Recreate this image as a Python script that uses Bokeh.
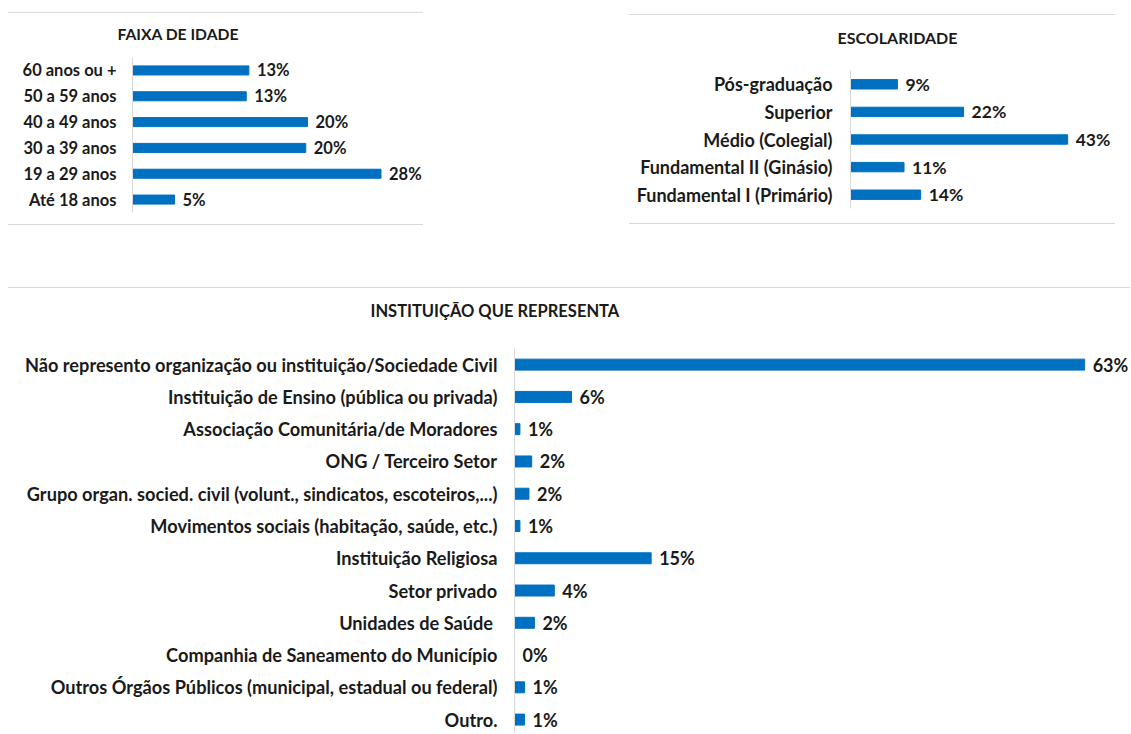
from bokeh.plotting import figure
from bokeh.models import ColumnDataSource, FactorRange, Range1d, FixedTicker, Spacer, Title
from bokeh.layouts import column, row
from bokeh.embed import file_html
from bokeh.resources import INLINE
from bokeh.core.properties import value

FONT = "Lato"
BLUE = "#0070C0"
GREY = "#D9D9D9"
TXT = "#1a1a1a"

age_title = "FAIXA DE IDADE"
age_labels = ["60 anos ou +", "50 a 59 anos", "40 a 49 anos", "30 a 39 anos", "19 a 29 anos", "Até 18 anos"]
age_values = [13.3, 13.0, 20.0, 19.8, 28.4, 4.8]

edu_title = "ESCOLARIDADE"
edu_labels = ["Pós-graduação", "Superior", "Médio (Colegial)", "Fundamental II (Ginásio)", "Fundamental I (Primário)"]
edu_values = [9.3, 22.4, 43.0, 10.6, 13.9]

inst_title = "INSTITUIÇÃO QUE REPRESENTA"
inst_labels = [
    "Não represento organização ou instituição/Sociedade Civil",
    "Instituição de Ensino (pública ou privada)",
    "Associação Comunitária/de Moradores",
    "ONG / Terceiro Setor",
    "Grupo organ. socied. civil (volunt., sindicatos, escoteiros,...)",
    "Movimentos sociais (habitação, saúde, etc.)",
    "Instituição Religiosa",
    "Setor privado",
    "Unidades de Saúde ",
    "Companhia de Saneamento do Município",
    "Outros Órgãos Públicos (municipal, estadual ou federal)",
    "Outro.",
]
inst_values = [63.0, 6.3, 0.6, 1.9, 1.6, 0.6, 15.1, 4.4, 2.2, 0.0, 1.1, 1.1]


def style(p, title, title_offset, title_size, gap, label_size, standoff):
    p.xaxis.visible = False
    p.grid.visible = False
    p.outline_line_color = None
    p.background_fill_color = "white"
    p.border_fill_color = "white"
    ax = p.yaxis[0]
    ax.axis_line_color = GREY
    ax.axis_line_width = 1
    ax.major_tick_line_color = None
    ax.minor_tick_line_color = None
    ax.major_label_text_font = FONT
    ax.major_label_text_font_style = "bold"
    ax.major_label_text_font_size = label_size
    ax.major_label_text_color = TXT
    ax.major_label_standoff = standoff
    # blank spacer title between the frame and the visible title
    p.add_layout(Title(text=" ", text_font_size="1px", text_color="white", standoff=gap), "above")
    p.add_layout(Title(text=title, align="left", offset=title_offset, standoff=0,
                       text_font=FONT, text_font_style="bold", text_font_size=title_size,
                       text_color=TXT), "above")


def cat_panel(title, labels, values, width, height, left, top, bottom, xmax,
              title_offset, title_size, gap, label_size, val_size, bar_h, standoff):
    src = ColumnDataSource(dict(cat=labels, val=values, txt=[f"{v:.0f}%" for v in values]))
    p = figure(width=width, height=height,
               y_range=FactorRange(factors=labels[::-1], range_padding=0, factor_padding=0),
               x_range=Range1d(0, xmax), output_backend="svg", toolbar_location=None,
               min_border_left=left, min_border_top=top, min_border_bottom=bottom,
               min_border_right=0)
    p.hbar(y="cat", left=0, right="val", height=bar_h, source=src,
           fill_color=BLUE, line_color=BLUE)
    p.text(x="val", y="cat", text="txt", source=src, x_offset=8,
           text_baseline="middle", text_align="left", text_font=value(FONT),
           text_font_style="bold", text_font_size=val_size, text_color=TXT)
    style(p, title, title_offset, title_size, gap, label_size, standoff)
    return p


def line(w):
    return Spacer(width=w, height=1, styles={"background-color": GREY})


fig1 = cat_panel(age_title, age_labels, age_values, 415, 206, 124, 39, 12, 291 / 8.75,
                 -15, "15.7px", 12, "16.5px", "16.5px", 0.35, 10)
fig2 = cat_panel(edu_title, edu_labels, edu_values, 486, 203, 221, 50, 15, 265 / 5.05,
                 -13, "16px", 21, "18px", "17.5px", 0.34, 12)

# bottom panel: numeric y scale with category names as tick labels
n = len(inst_labels)
pos = list(range(n))
src3 = ColumnDataSource(dict(y=pos, val=inst_values, txt=[f"{v:.0f}%" for v in inst_values]))
row_px = 32.27
fig3_h = 443
top3 = 58
frame_h = fig3_h - top3
fig3 = figure(width=1122, height=fig3_h,
              y_range=Range1d(-0.5 + frame_h / row_px, -0.5), x_range=Range1d(0, 616 / 9.05),
              output_backend="svg", toolbar_location=None,
              min_border_left=506, min_border_top=top3, min_border_bottom=0, min_border_right=0)
fig3.hbar(y="y", left=0, right="val", height=0.34, source=src3, fill_color=BLUE, line_color=BLUE)
fig3.text(x="val", y="y", text="txt", source=src3, x_offset=8,
          text_baseline="middle", text_align="left", text_font=value(FONT),
          text_font_style="bold", text_font_size="18px", text_color=TXT)
style(fig3, inst_title, -144, "16.5px", 25, "18.2px", 11)
fig3.yaxis[0].ticker = FixedTicker(ticks=pos)
fig3.yaxis[0].major_label_overrides = {i: lab for i, lab in enumerate(inst_labels)}

top_left = column(Spacer(width=415, height=4), line(415), Spacer(width=415, height=5),
                  fig1, line(415))
top_right = column(Spacer(width=486, height=6), line(486), Spacer(width=486, height=5),
                   fig2, line(486))
top = row(top_left, Spacer(width=206, height=1), top_right)
bottom = column(line(1122), Spacer(width=1122, height=2), fig3)
inner = column(Spacer(width=1, height=8), top, Spacer(width=1, height=62), bottom)
layout = row(Spacer(width=8, height=1), inner)

open("out.html", "w").write(file_html(layout, INLINE))
